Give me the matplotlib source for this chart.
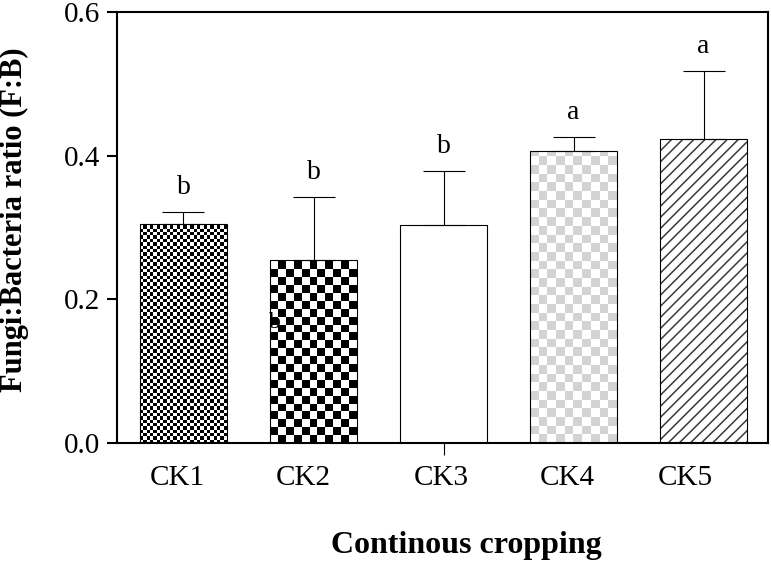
import numpy as np
import matplotlib
matplotlib.use("Agg")
import matplotlib.pyplot as plt
from matplotlib.colors import ListedColormap


groups = ["CK1", "CK2", "CK3", "CK4", "CK5"]
means = [0.304, 0.2545, 0.303, 0.406, 0.4235]
errors = [0.0174, 0.088, 0.0755, 0.0198, 0.0947]
letters = ["b", "b", "b", "a", "a"]

plt.rcParams["font.family"] = ["Liberation Serif", "DejaVu Serif"]
plt.rcParams["hatch.linewidth"] = 1.1


def checker_fill(ax, bar, squares_across, colors, zorder=2.5):
    # checkerboard texture clipped to the bar rectangle
    x0, y0 = bar.get_x(), bar.get_y()
    w, h = bar.get_width(), bar.get_height()
    p0 = ax.transData.transform((x0, y0))
    p1 = ax.transData.transform((x0 + w, y0 + h))
    sq = (p1[0] - p0[0]) / squares_across
    rows = int(np.ceil((p1[1] - p0[1]) / sq))
    ii, jj = np.indices((rows, squares_across))
    board = (ii + jj) % 2
    top = y0 + rows * sq * h / (p1[1] - p0[1])
    img = ax.imshow(board, cmap=ListedColormap(colors), extent=(x0, x0 + w, y0, top),
                    origin="lower", interpolation="nearest", aspect="auto", zorder=zorder)
    img.set_clip_path(bar)


fig = plt.figure(figsize=(7.71, 5.63), dpi=100)
ax = fig.add_axes([117 / 771, 1 - 442.7 / 563, 651 / 771, 430.7 / 563])
ax.set_xlim(-0.5115, 4.496)
ax.set_ylim(0, 0.6)

x = np.arange(len(groups))
bars = ax.bar(x, means, width=0.667, facecolor="none", edgecolor="black",
              linewidth=0.8, zorder=3)
ax.errorbar(x, means, yerr=[np.zeros(len(means)), errors], fmt="none",
            ecolor="black", elinewidth=0.8, capsize=15, capthick=0.8, zorder=2.9)

checker_fill(ax, bars[0], 26, ["white", "black"])
checker_fill(ax, bars[1], 11, ["white", "black"])
checker_fill(ax, bars[3], 10, ["white", "#d3d3d3"])
ax.bar(x[4], means[4], width=0.667, facecolor="white", edgecolor="#3a3a3a",
       hatch="///", linewidth=0, zorder=2.5)

for xi, m, e, t in zip(x, means, errors, letters):
    ax.annotate(t, (xi, m + e), xytext=(0, 13), textcoords="offset points",
                ha="center", va="baseline", fontsize=20)
# stray letter left inside the CK2 bar
ax.text(x[1] - 0.3, 0.167, "b", ha="center", va="center", fontsize=17, zorder=2.8)

label_shift = [-0.05, -0.08, -0.02, -0.05, -0.14]
ax.set_xticks(x + np.array(label_shift))
ax.set_xticklabels(groups, fontsize=21)
ax.tick_params(axis="x", which="major", length=0, pad=16)
ax.set_xticks([x[2]], minor=True)
ax.tick_params(axis="x", which="minor", length=8.5, width=0.8, direction="out")

ax.set_yticks([0.0, 0.2, 0.4, 0.6])
ax.set_yticklabels(["0.0", "0.2", "0.4", "0.6"], fontsize=21)
ax.tick_params(axis="y", length=7, width=1.5, pad=5)

for side in ["left", "right", "top", "bottom"]:
    ax.spines[side].set_linewidth(1.5)

ax.set_ylabel("Fungi:Bacteria ratio (F:B)", fontsize=22, fontweight="bold")
ax.yaxis.set_label_coords(-0.135, 0.517)
ax.set_xlabel("Continous cropping", fontsize=23, fontweight="bold")
ax.xaxis.set_label_coords(0.536, -0.205)

fig.savefig("out.png", dpi=100)
